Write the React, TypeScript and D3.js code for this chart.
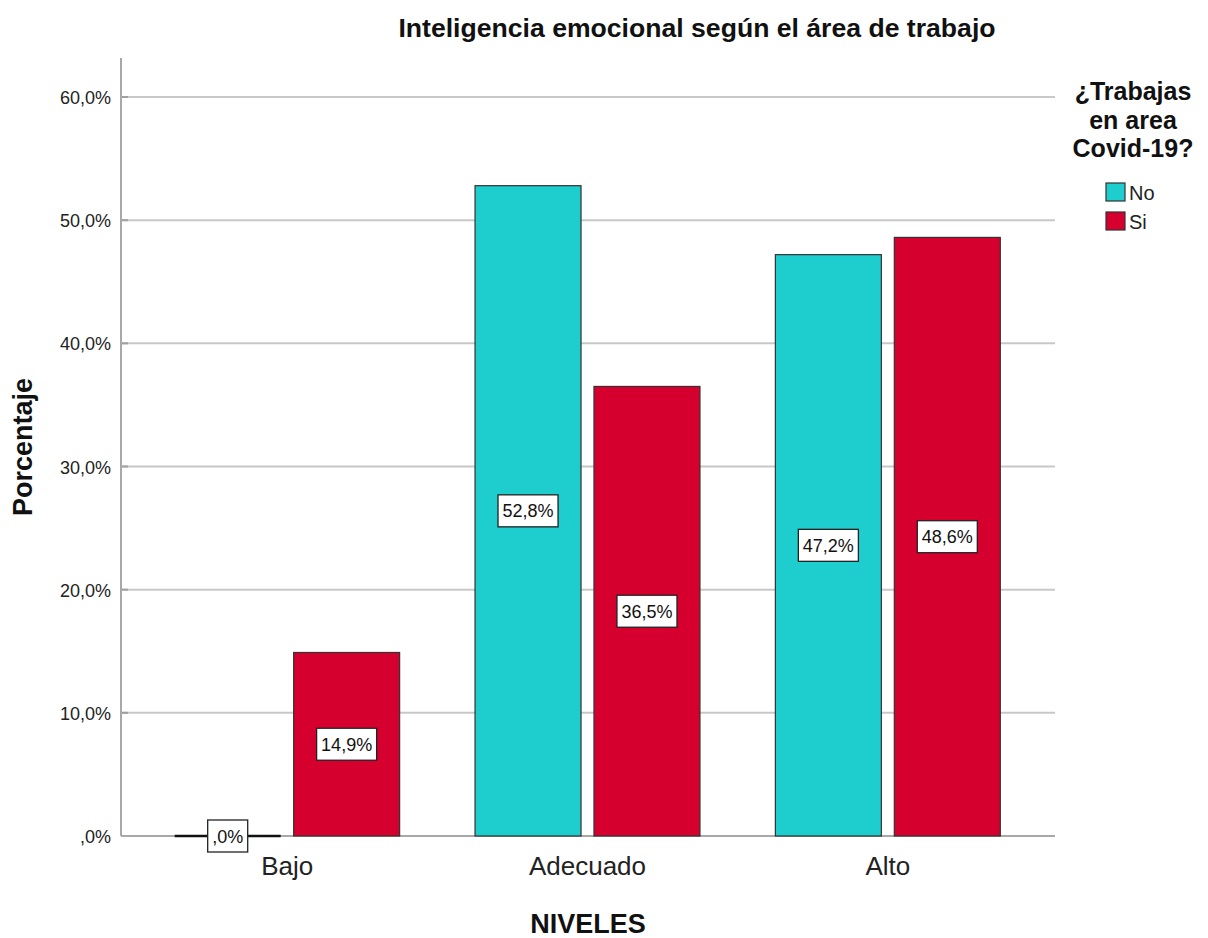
import React from "react";
import * as d3 from "d3";

const categories = ["Bajo", "Adecuado", "Alto"];
const seriesNames = ["No", "Si"];
const valuesNo = [0.0, 52.8, 47.2];
const valuesSi = [14.9, 36.5, 48.6];
const yTicks = [0, 10, 20, 30, 40, 50, 60];
const legendTitle = ["¿Trabajas", "en area", "Covid-19?"];
const colors = ["#1ecdcd", "#d6002f"];

const W = 1208, H = 938;
const fmt = (v: number) => {
  const s = v.toFixed(1).replace(".", ",");
  return (s.startsWith("0,") ? s.slice(1) : s) + "%";
};
const textW = (s: string, size: number) =>
  s.split("").reduce((a, ch) => a + (ch === "," ? 0.278 : ch === "%" ? 0.889 : 0.556), 0) * size;

export default function App() {
  const x = d3.scaleBand<string>().domain(categories).range([137, 1038]);
  const y = d3.scaleLinear().domain([0, 60]).range([836, 97]);
  const inner = d3.scaleBand<string>().domain(seriesNames).range([0, x.bandwidth()]).paddingInner(0.109).paddingOuter(0.317);
  const series = [valuesNo, valuesSi];
  const font = "'Liberation Sans', Arial, sans-serif";
  return (
    <svg width={W} height={H} style={{ position: "absolute", left: 0, top: 0 }} fontFamily={font}>
      <rect x={0} y={0} width={W} height={H} fill="#fff" />
      <text x={697} y={37} textAnchor="middle" fontSize={26.6} fontWeight="bold" fill="#111">Inteligencia emocional según el área de trabajo</text>
      {yTicks.map(t => (
        <g key={t}>
          {t > 0 && <line x1={121} x2={1055} y1={y(t)} y2={y(t)} stroke="#c8c8c8" strokeWidth={2} />}
          <line x1={121} x2={128} y1={y(t)} y2={y(t)} stroke="#a0a0a0" strokeWidth={2} />
          <text x={111} y={y(t) + 7} textAnchor="end" fontSize={18} fill="#222">{fmt(t)}</text>
        </g>
      ))}
      <line x1={121} x2={1055} y1={y(0)} y2={y(0)} stroke="#a8a8a8" strokeWidth={2} />
      <line x1={121} x2={121} y1={58} y2={836} stroke="#a8a8a8" strokeWidth={2} />
      {categories.map((c, i) => (
        <g key={c}>
          {series.map((vals, s) => {
            const v = vals[i];
            const bx = (x(c) as number) + (inner(seriesNames[s]) as number);
            const bw = inner.bandwidth();
            const top = y(v);
            const h = y(0) - top;
            return (
              <g key={s}>
                {h > 0 ? (
                  <rect x={bx} y={top} width={bw} height={h} fill={colors[s]} stroke="#333" strokeWidth={1.2} />
                ) : (
                  <line x1={bx} x2={bx + bw} y1={y(0)} y2={y(0)} stroke="#111" strokeWidth={2.5} />
                )}
              </g>
            );
          })}
        </g>
      ))}
      {categories.map((c, i) => (
        <g key={c + "l"}>
          {series.map((vals, s) => {
            const v = vals[i];
            const cx = (x(c) as number) + (inner(seriesNames[s]) as number) + inner.bandwidth() / 2;
            const cy = (y(v) + y(0)) / 2;
            const label = fmt(v);
            const bw = textW(label, 18) + 9;
            return (
              <g key={s}>
                <rect x={cx - bw / 2} y={cy - 16} width={bw} height={32} fill="#fff" stroke="#222" strokeWidth={1.3} />
                <text x={cx} y={cy + 6.5} textAnchor="middle" fontSize={18} fill="#111">{label}</text>
              </g>
            );
          })}
          <text x={(x(c) as number) + x.bandwidth() / 2} y={875} textAnchor="middle" fontSize={26} fill="#222">{c}</text>
        </g>
      ))}
      <text transform={`translate(32,447) rotate(-90)`} textAnchor="middle" fontSize={27} fontWeight="bold" fill="#111">Porcentaje</text>
      <text x={588} y={933} textAnchor="middle" fontSize={27} fontWeight="bold" fill="#111">NIVELES</text>
      <g>
        {legendTitle.map((t, i) => (
          <text key={t} x={1133} y={100 + i * 28.5} textAnchor="middle" fontSize={25} fontWeight="bold" fill="#111">{t}</text>
        ))}
        {seriesNames.map((n, i) => (
          <g key={n}>
            <rect x={1106} y={183 + i * 29} width={19} height={18} fill={colors[i]} stroke="#333" strokeWidth={1.2} />
            <text x={1129} y={200 + i * 29} fontSize={20} fill="#222">{n}</text>
          </g>
        ))}
      </g>
    </svg>
  );
}
